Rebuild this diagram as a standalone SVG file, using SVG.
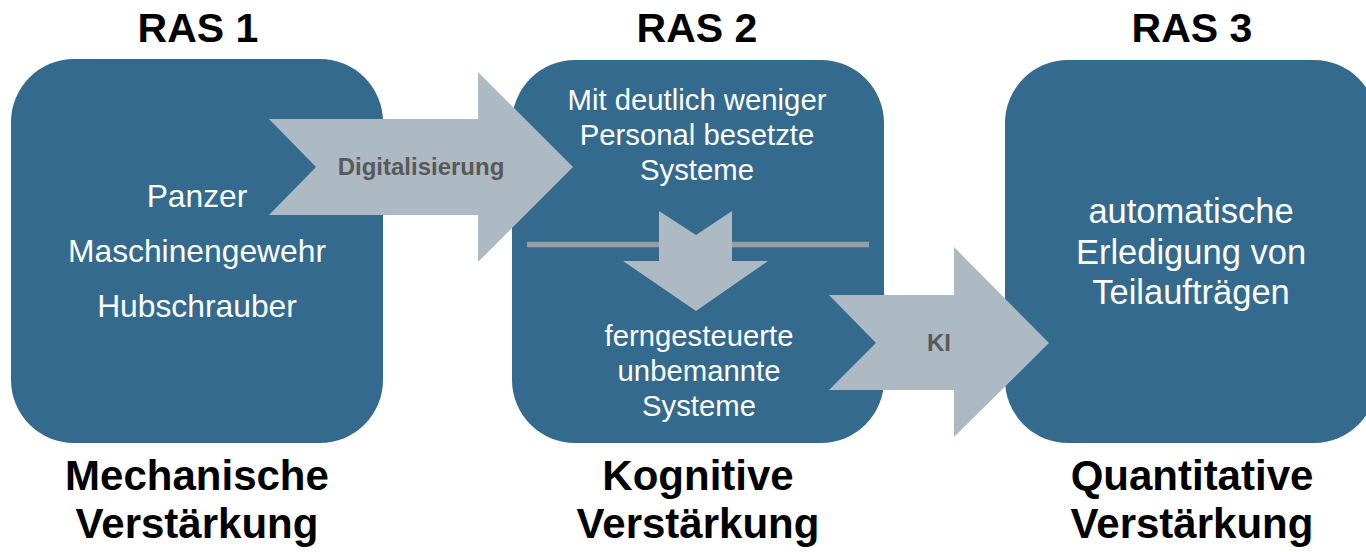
<svg xmlns="http://www.w3.org/2000/svg" width="1366" height="552" viewBox="0 0 1366 552">
<style>
.box{fill:#346A8D}
.arrow{fill:#ADB9C3}
.title{font-family:"Liberation Sans",Arial,sans-serif;font-weight:bold;font-size:41px;fill:#000;text-anchor:middle}
.sub{font-family:"Liberation Sans",Arial,sans-serif;font-weight:bold;font-size:42px;fill:#000;text-anchor:middle}
.body{font-family:"Liberation Sans",Arial,sans-serif;fill:#fff;text-anchor:middle}
.lbl{font-family:"Liberation Sans",Arial,sans-serif;font-weight:bold;font-size:24px;fill:#595959;text-anchor:middle}
</style>
<rect width="1366" height="552" fill="#fff"/>
<text class="title" x="198" y="42">RAS 1</text>
<text class="title" x="697" y="42">RAS 2</text>
<text class="title" x="1192" y="42">RAS 3</text>
<g id="ras1">
<rect class="box" x="11" y="59" width="372" height="384" rx="63" ry="63"/>
<text class="body" font-size="31.8" x="197" y="207">Panzer</text>
<text class="body" font-size="31.8" x="197" y="262">Maschinengewehr</text>
<text class="body" font-size="31.8" x="197" y="317">Hubschrauber</text>
</g>
<g id="ras2">
<rect class="box" x="512" y="60" width="372" height="383" rx="63" ry="63"/>
<text class="body" font-size="29.3" x="697" y="110">Mit deutlich weniger</text>
<text class="body" font-size="29.3" x="697" y="145">Personal besetzte</text>
<text class="body" font-size="29.3" x="697" y="180">Systeme</text>
<text class="body" font-size="29.3" x="699" y="346">ferngesteuerte</text>
<text class="body" font-size="29.3" x="699" y="381">unbemannte</text>
<text class="body" font-size="29.3" x="699" y="416">Systeme</text>
</g>
<g id="ras3">
<rect class="box" x="1005" y="60" width="372" height="383" rx="63" ry="63"/>
<text class="body" font-size="34.5" x="1191" y="223">automatische</text>
<text class="body" font-size="34.5" x="1191" y="264">Erledigung von</text>
<text class="body" font-size="34.5" x="1191" y="304">Teilaufträgen</text>
</g>
<g id="connectors">
<line x1="527" y1="244.5" x2="869" y2="244.5" stroke="#9A9EA3" stroke-width="5.5"/>
<polygon class="arrow" points="659,211 696,235 732,211 732,261 768,261 696,311 623,261 659,261"/>
<polygon class="arrow" points="269,119 478,119 478,72 573,167 478,262 478,215 269,215 316,167"/>
<text class="lbl" x="421" y="175">Digitalisierung</text>
<polygon class="arrow" points="829,295 954,295 954,247 1049,343 954,437 954,390 829,390 876,343"/>
<text class="lbl" x="939" y="351">KI</text>
</g>
<g id="labels">
<text class="sub" x="197" y="490">Mechanische</text>
<text class="sub" x="197" y="538">Verstärkung</text>
<text class="sub" x="698" y="490">Kognitive</text>
<text class="sub" x="698" y="538">Verstärkung</text>
<text class="sub" x="1192" y="490">Quantitative</text>
<text class="sub" x="1192" y="538">Verstärkung</text>
</g>
</svg>
